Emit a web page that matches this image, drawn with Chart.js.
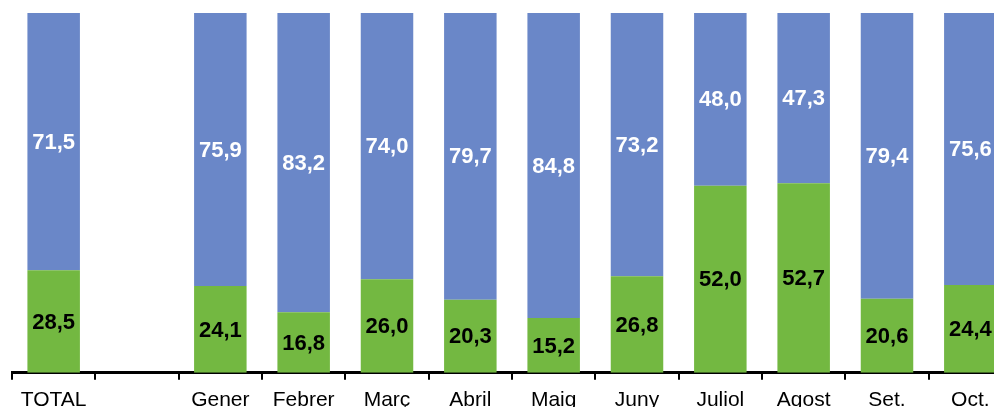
<!DOCTYPE html>
<html>
<head>
<meta charset="utf-8">
<script src="https://cdn.jsdelivr.net/npm/chart.js@4"></script>
<style>
  html, body { margin: 0; padding: 0; background: #fff; overflow: hidden; }
  #wrap { width: 1030px; height: 421px; }
</style>
</head>
<body>
<div id="wrap"><canvas id="myChart" width="1030" height="421"></canvas></div>
<script>
const labels = ['TOTAL', '', 'Gener', 'Febrer', 'Març', 'Abril', 'Maig', 'Juny', 'Juliol', 'Agost', 'Set.', 'Oct.'];

const greenValues = [28.5, null, 24.1, 16.8, 26.0, 20.3, 15.2, 26.8, 52.0, 52.7, 20.6, 24.4];
const blueValues = [71.5, null, 75.9, 83.2, 74.0, 79.7, 84.8, 73.2, 48.0, 47.3, 79.4, 75.6];

// value labels in the middle of each segment (no datalabels plugin offline)
const segmentLabels = {
  id: 'segmentLabels',
  afterDatasetsDraw(chart) {
    const ctx = chart.ctx;
    ctx.save();
    ctx.font = 'bold 22px "Liberation Sans", Arial, sans-serif';
    ctx.textAlign = 'center';
    ctx.textBaseline = 'middle';
    chart.data.datasets.forEach((ds, di) => {
      const meta = chart.getDatasetMeta(di);
      meta.data.forEach((bar, i) => {
        const v = ds.data[i];
        if (v == null) return;
        ctx.fillStyle = ds.labelColor;
        ctx.fillText(v.toFixed(1).replace('.', ','), bar.x, (bar.y + bar.base) / 2 + 1);
      });
    });
    ctx.restore();
  }
};

const data = {
  labels: labels,
  datasets: [
    {
      label: 'verd',
      backgroundColor: 'rgb(115, 184, 65)',
      labelColor: '#000',
      data: greenValues
    },
    {
      label: 'blau',
      backgroundColor: 'rgb(106, 135, 200)',
      labelColor: '#fff',
      data: blueValues
    }
  ]
};

const config = {
  type: 'bar',
  data: data,
  plugins: [segmentLabels],
  options: {
    responsive: false,
    animation: false,
    events: [],
    layout: { padding: { top: 13, left: 12, right: 18, bottom: 0 } },
    datasets: { bar: { categoryPercentage: 0.63, barPercentage: 1 } },
    plugins: { legend: { display: false }, tooltip: { enabled: false } },
    scales: {
      x: {
        stacked: true,
        border: { display: true, color: '#000', width: 3 },
        grid: { drawOnChartArea: false, drawTicks: true, tickLength: 7, color: '#000', lineWidth: 2, offset: true },
        ticks: {
          color: '#000',
          padding: 8,
          maxRotation: 0,
          autoSkip: false,
          font: { family: '"Liberation Sans", Arial, sans-serif', size: 21 }
        }
      },
      y: {
        stacked: true,
        display: false,
        min: 0,
        max: 100
      }
    }
  }
};

new Chart(document.getElementById('myChart'), config);
</script>
</body>
</html>
